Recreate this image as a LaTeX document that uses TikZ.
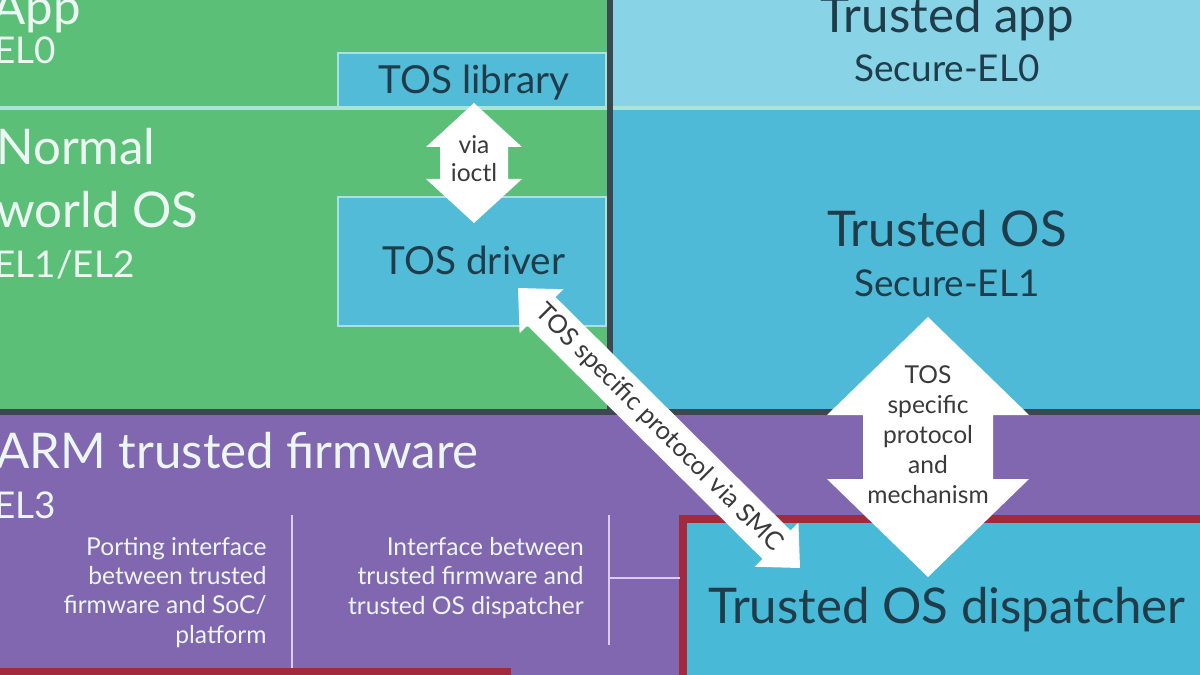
\documentclass[tikz,border=0pt]{standalone}
\usepackage{fontspec}
\setmainfont{Lato}
\usetikzlibrary{calc}
\definecolor{nwgreen}{HTML}{5BBF78}
\definecolor{paleline}{HTML}{A8E4DA}
\definecolor{tosblue}{HTML}{52BCD8}
\definecolor{appblue}{HTML}{88D3E5}
\definecolor{osblue}{HTML}{4FBAD7}
\definecolor{darkline}{HTML}{3C4850}
\definecolor{fwpurple}{HTML}{8167AF}
\definecolor{dispred}{HTML}{A22A3C}
\definecolor{dispblue}{HTML}{48B9D6}
\definecolor{darktext}{HTML}{1F3C4A}
\definecolor{lighttext}{HTML}{ECF6F2}
\definecolor{lavline}{HTML}{DCCCF2}
\definecolor{arrowgray}{HTML}{3A3A3A}
% fat white double arrow: ends, shaft half width, head half width, head length (px) {{{
\newcommand{\fatarrow}[5]{%
\fill[white] (#1)
  -- ($(#1)!#5*0.02cm!(#2)!#4*0.02cm!90:(#2)$)
  -- ($(#1)!#5*0.02cm!(#2)!#3*0.02cm!90:(#2)$)
  -- ($(#2)!#5*0.02cm!(#1)!#3*0.02cm!-90:(#1)$)
  -- ($(#2)!#5*0.02cm!(#1)!#4*0.02cm!-90:(#1)$)
  -- (#2)
  -- ($(#2)!#5*0.02cm!(#1)!#4*0.02cm!90:(#1)$)
  -- ($(#2)!#5*0.02cm!(#1)!#3*0.02cm!90:(#1)$)
  -- ($(#1)!#5*0.02cm!(#2)!#3*0.02cm!-90:(#2)$)
  -- ($(#1)!#5*0.02cm!(#2)!#4*0.02cm!-90:(#2)$)
  -- cycle ;}
% }}}
\begin{document}
\begin{tikzpicture}[x=0.02cm, y=-0.02cm,
  big/.style={font=\fontsize{28}{36}\selectfont},
  mid/.style={font=\fontsize{21}{24}\selectfont},
  small/.style={font=\fontsize{14}{16.6}\selectfont, align=right},
  arrowtext/.style={text=arrowgray, inner sep=0pt, align=center},
  ontrusted/.style={text=darktext, inner sep=0pt},
  onnormal/.style={text=lighttext, inner sep=0pt}] % {{{
\useasboundingbox (0,0) rectangle (1200,675) ;
\clip (0,0) rectangle (1200,675) ;
% Normal world {{{
\fill[nwgreen] (0,0) rectangle (612,412) ;
\filldraw[fill=tosblue, draw=paleline, line width=1.6pt] (338,53) rectangle (606,108) ;
\filldraw[fill=tosblue, draw=paleline, line width=1.6pt] (338,197) rectangle (606,326) ;
% }}}
% Secure world {{{
\fill[appblue] (612,0) rectangle (1200,108) ;
\fill[osblue] (612,108) rectangle (1200,412) ;
\draw[paleline, line width=2.2pt] (0,108) -- (1200,108) ;
% }}}
% ARM trusted firmware {{{
\fill[fwpurple] (0,412) rectangle (1200,675) ;
\fill[dispred] (0,668) rectangle (511,680) ;
\filldraw[fill=dispblue, draw=dispred, line width=4.5pt] (683,519) rectangle (1220,700) ;
\draw[lavline, line width=1.2pt] (292,515) -- (292,668) ;
\draw[lavline, line width=1.2pt] (609,515) -- (609,645) (609,578) -- (680,578) ;
% }}}
\draw[darkline, line width=3.4pt] (610,0) -- (610,412) ;
\draw[darkline, line width=3.4pt] (0,412) -- (1200,412) ;
% Arrows {{{
\coordinate (ioctlA) at (474,103) ;
\coordinate (ioctlB) at (474,223) ;
\fatarrow{ioctlA}{ioctlB}{34}{48}{44}
\coordinate (smcA) at (518,288) ;
\coordinate (smcB) at (800,568) ;
\fatarrow{smcA}{smcB}{20}{31}{33}
\coordinate (mechA) at (928,317) ;
\coordinate (mechB) at (928,577) ;
\fatarrow{mechA}{mechB}{65}{101}{98}
% }}}
% Labels {{{
\node[onnormal, big, anchor=base west] (app) at (-8,25) {App} ;
\node[onnormal, mid, anchor=base west] (appel) at (-6,64) {EL0} ;
\node[onnormal, big, anchor=base west, align=left] (nwos) at (-4,228) {Normal\\world OS} ;
\node[onnormal, mid, anchor=base west] (nwosel) at (-6,278) {EL1/EL2} ;
\node[ontrusted, font=\fontsize{22}{24}\selectfont, anchor=base] (toslib) at (474,94) {TOS library} ;
\node[ontrusted, font=\fontsize{22}{24}\selectfont, anchor=base] (tosdrv) at (474,275) {TOS driver} ;
\node[ontrusted, big, anchor=base] (tapp) at (947,33) {Trusted app} ;
\node[ontrusted, mid, anchor=base] (tappel) at (947,82) {Secure-EL0} ;
\node[ontrusted, big, anchor=base] (tos) at (947,247) {Trusted OS} ;
\node[ontrusted, mid, anchor=base] (tosel) at (947,297) {Secure-EL1} ;
\node[ontrusted, big, anchor=base] (disp) at (947,623) {Trusted OS dispatcher} ;
\node[onnormal, big, anchor=base west] (atf) at (-4,468) {ARM trusted firmware} ;
\node[onnormal, mid, anchor=base west] (atfel) at (-6,518) {EL3} ;
\node[onnormal, small, anchor=base east] (porting) at (267,643)
  {Porting interface\\between trusted\\firmware and SoC/\\platform} ;
\node[onnormal, small, anchor=base east] (tfif) at (584,614)
  {Interface between\\trusted firmware and\\trusted OS dispatcher} ;
\node[arrowtext, font=\fontsize{14}{16.5}\selectfont, anchor=base] (ioctl) at (474,182) {via\\ioctl} ;
\node[arrowtext, font=\fontsize{14}{17}\selectfont, anchor=base] (mech) at (928,503)
  {TOS\\specific\\protocol\\and\\mechanism} ;
\node[arrowtext, font=\fontsize{14.5}{16}\selectfont, rotate=-45] (smc) at ($(smcA)!0.5!(smcB)$)
  {TOS specific protocol via SMC} ;
% }}}
\end{tikzpicture} % }}}
\end{document}
